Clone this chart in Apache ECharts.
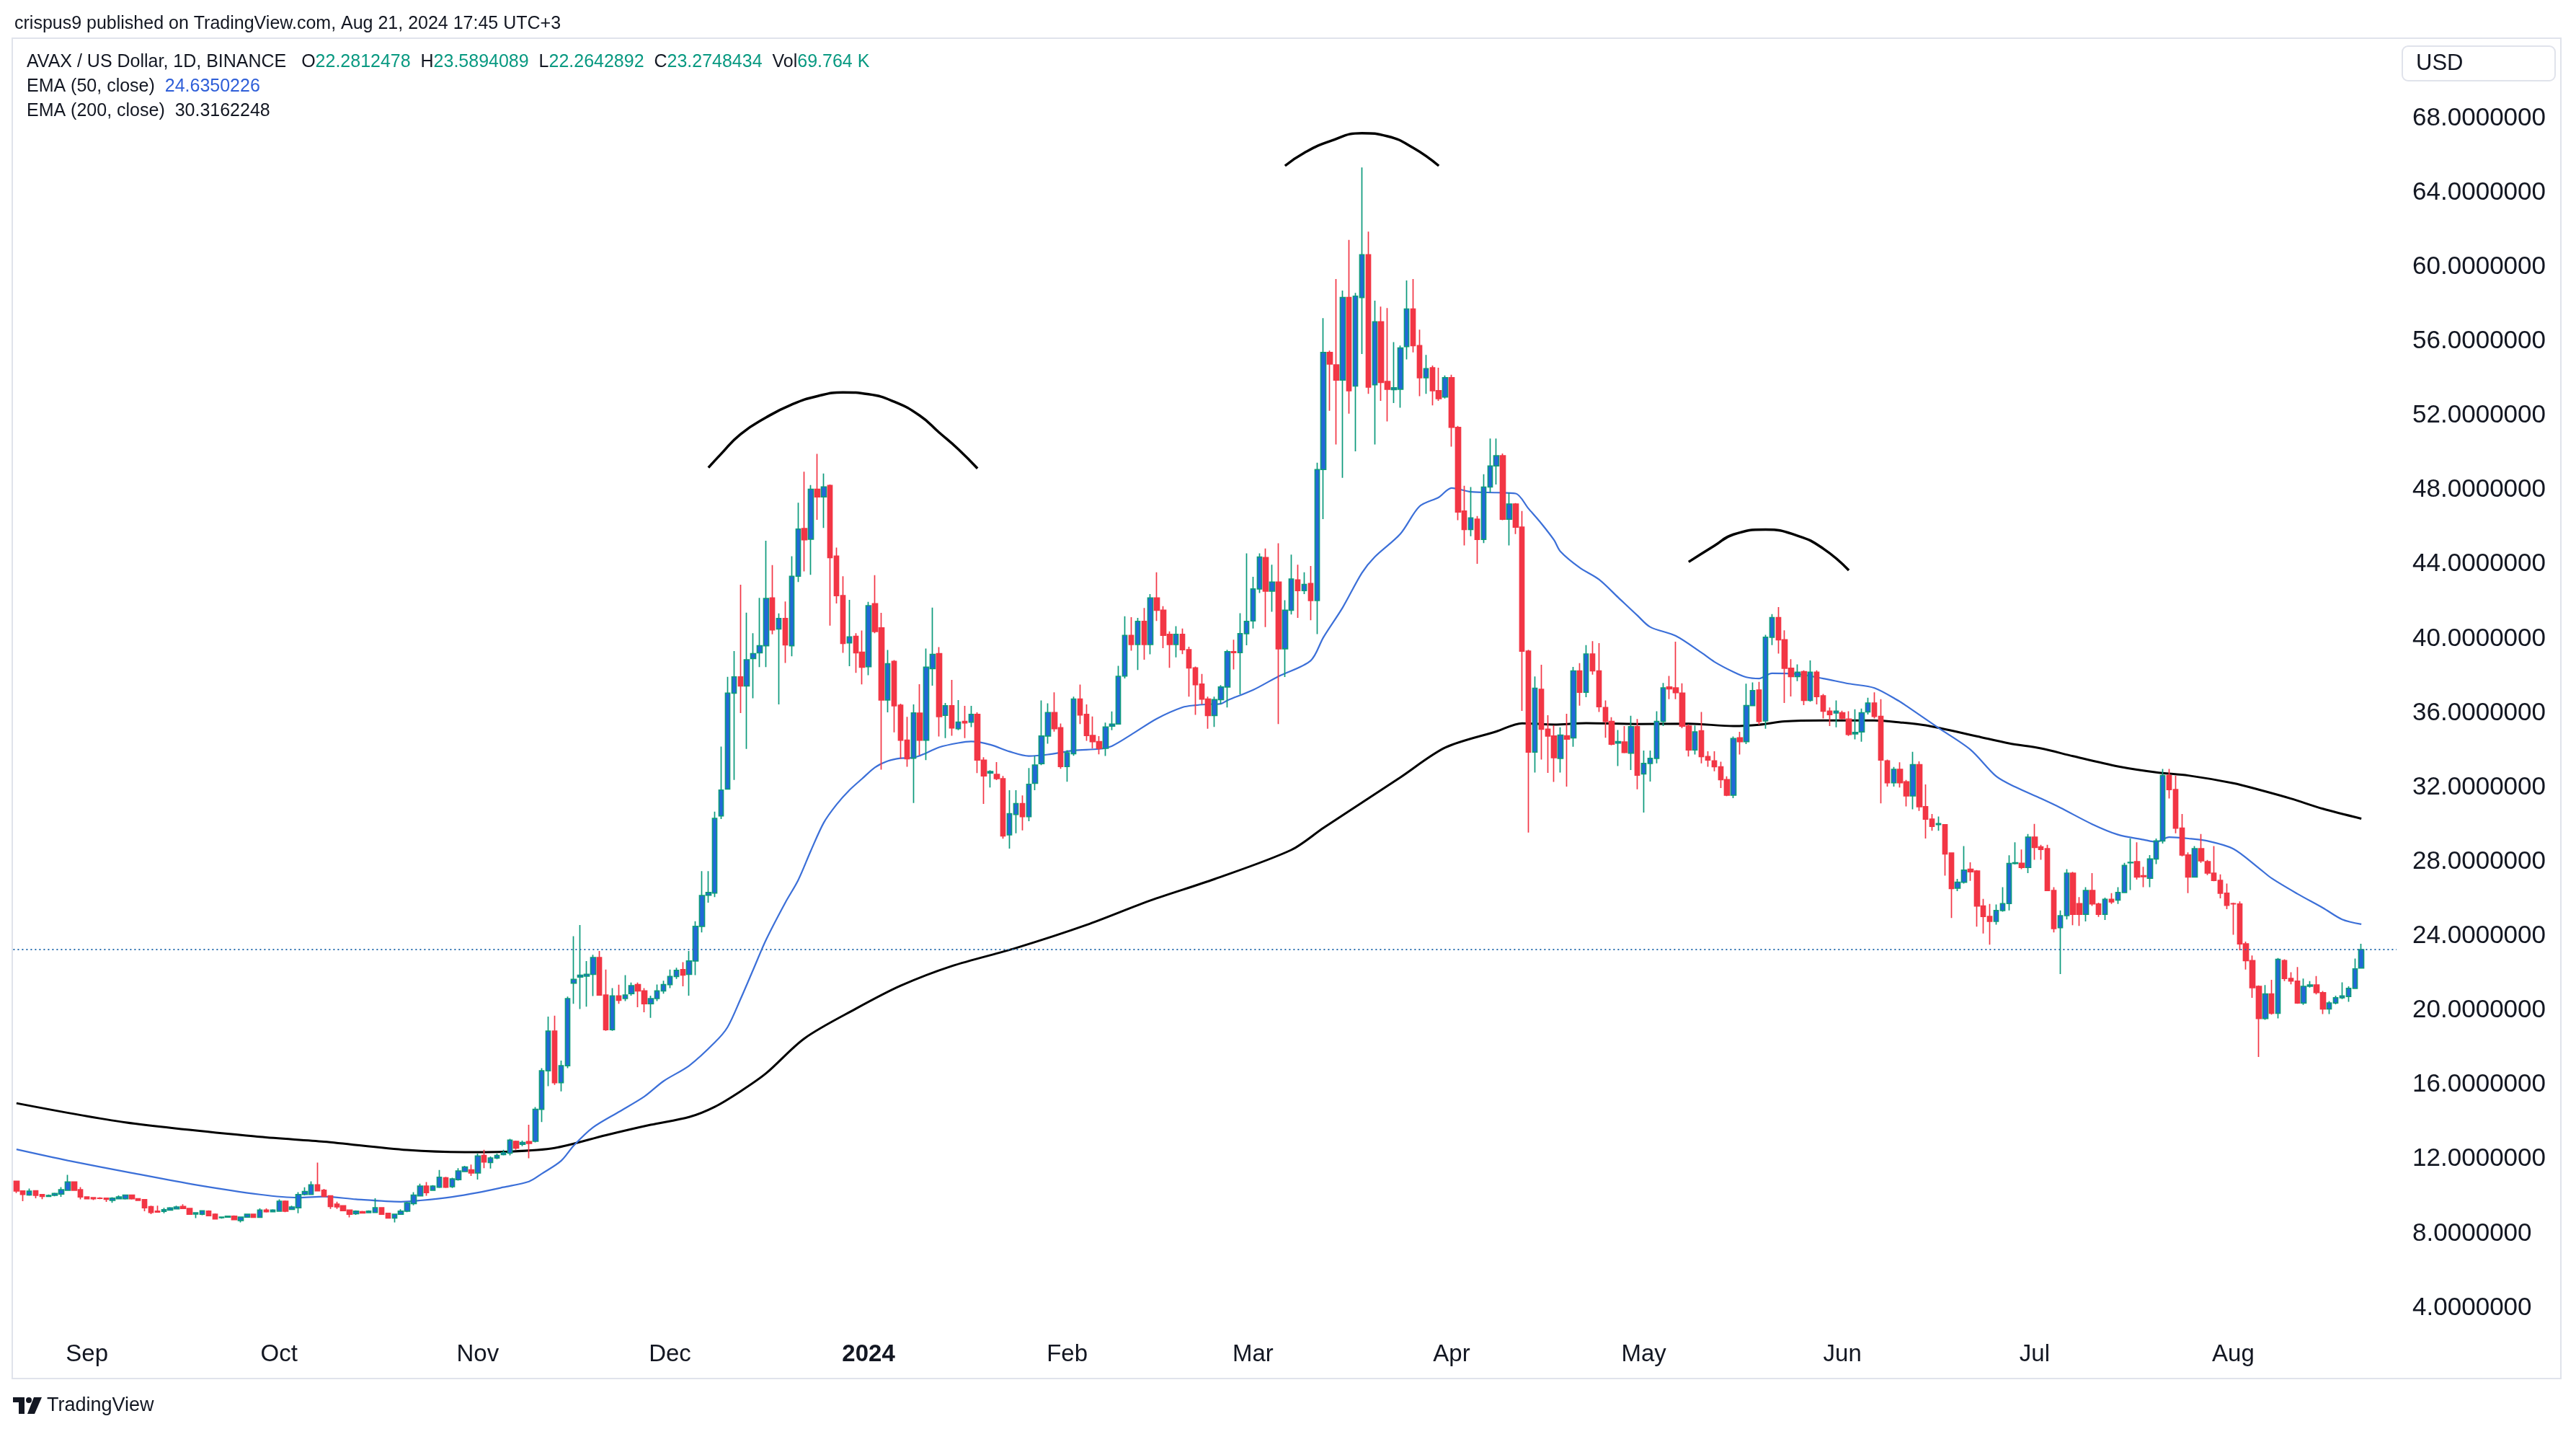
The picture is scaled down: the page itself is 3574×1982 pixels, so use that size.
<!DOCTYPE html>
<html>
<head>
<meta charset="utf-8">
<title>AVAX / US Dollar, 1D, BINANCE</title>
<script src="https://cdn.jsdelivr.net/npm/echarts/dist/echarts.min.js"></script>
<style>
  html, body { margin: 0; padding: 0; background: #ffffff; }
  #chart { width: 3574px; height: 1982px; }
</style>
</head>
<body>
<div id="chart"></div>
<script>
// daily candles, one row per day: [open, high, low, close]
var aug2023 = [
  [10.81,10.83,10.18,10.29],[10.29,10.30,9.74,10.10],[10.07,10.42,10.03,10.28],[10.30,10.33,9.90,10.05],
  [10.10,10.12,9.85,10.00],[10.00,10.10,9.98,10.05],[10.05,10.20,10.00,10.15],[10.12,10.50,9.97,10.36],
  [10.33,11.16,10.30,10.77],[10.77,10.80,10.30,10.33],[10.36,10.50,9.84,9.97]
];
var sep2023 = [
  [9.97,10.00,9.85,9.87],[9.93,9.95,9.80,9.87],[9.90,9.95,9.85,9.89],[9.90,9.92,9.70,9.84],
  [9.78,9.95,9.65,9.90],[9.87,10.05,9.85,9.97],[9.87,10.10,9.83,10.07],[10.07,10.10,9.83,9.87],
  [9.87,9.88,9.75,9.78],[9.82,9.84,9.20,9.39],[9.45,9.50,9.04,9.13],[9.20,9.50,9.13,9.15],
  [9.19,9.38,9.09,9.28],[9.26,9.42,9.25,9.38],[9.33,9.50,9.30,9.43],[9.46,9.58,9.33,9.35],
  [9.35,9.38,9.00,9.04],[9.05,9.15,8.83,9.12],[9.04,9.26,8.98,9.22],[9.20,9.25,8.93,8.96],
  [9.04,9.08,8.75,8.78],[8.85,8.90,8.80,8.88],[8.88,8.96,8.86,8.93],[8.93,8.97,8.72,8.75],
  [8.70,8.90,8.60,8.88],[8.88,9.07,8.85,9.04],[9.04,9.07,8.85,8.87],[8.87,9.35,8.85,9.26],
  [9.26,9.35,9.13,9.17],[9.17,9.30,9.15,9.26]
];
var oct2023 = [
  [9.20,9.84,9.18,9.74],[9.74,9.78,9.15,9.20],[9.30,9.50,9.28,9.43],[9.39,10.23,9.09,10.10],
  [10.10,10.49,10.05,10.26],[10.10,10.81,10.08,10.62],[10.62,11.82,10.28,10.30],[10.33,10.40,9.95,10.00],
  [10.03,10.05,9.32,9.45],[9.58,9.71,9.32,9.43],[9.49,9.52,9.20,9.23],[9.26,9.28,8.87,9.04],
  [9.07,9.25,9.00,9.20],[9.17,9.22,9.07,9.10],[9.12,9.25,9.10,9.20],[9.13,9.90,9.10,9.39],
  [9.39,9.42,9.00,9.04],[9.09,9.12,8.80,8.83],[8.83,9.07,8.60,9.04],[9.04,9.30,9.00,9.20],
  [9.20,9.70,9.15,9.65],[9.61,10.23,9.52,10.07],[10.03,10.68,9.99,10.55],[10.55,10.77,10.03,10.20],
  [10.33,10.60,10.30,10.55],[10.49,11.42,10.45,11.03],[11.00,11.05,10.45,10.49],[10.52,11.00,10.45,10.94],
  [10.90,11.52,10.85,11.37],[11.33,11.64,11.30,11.58],[11.42,11.71,11.10,11.26]
];
var nov2023 = [
  [11.26,12.30,10.90,12.17],[12.20,12.50,11.52,11.85],[11.82,12.15,11.50,12.06],[12.06,12.30,12.00,12.20],
  [12.25,12.50,12.20,12.35],[12.32,13.10,12.20,13.02],[12.96,13.00,12.50,12.60],[12.80,13.00,12.70,12.90],
  [12.95,13.85,12.05,12.85],[12.96,14.80,12.90,14.68],[14.68,16.90,14.00,16.76],[16.76,19.67,15.93,18.89],
  [18.89,19.72,16.00,16.12],[16.12,17.30,15.65,17.03],[17.03,20.75,16.90,20.64],[21.47,24.00,20.36,21.67],
  [21.80,24.60,20.08,21.90],[21.85,22.66,20.20,21.95],[21.94,23.00,20.78,22.85],[22.85,23.20,20.80,20.83],
  [20.83,22.20,18.90,18.97],[18.97,21.20,18.90,20.78],[20.78,21.39,20.36,20.55],[20.64,21.90,20.50,20.83],
  [20.91,21.50,20.80,21.33],[21.39,21.50,20.17,21.05],[21.05,21.20,19.90,20.36],[20.36,20.80,19.60,20.64],
  [20.64,21.40,20.50,21.05],[21.05,21.60,20.90,21.39]
];
var dec2023 = [
  [21.39,22.20,21.20,21.83],[21.83,22.30,21.70,22.16],[22.20,22.60,21.30,21.90],[21.94,23.20,20.80,22.66],
  [22.66,24.80,21.90,24.52],[24.52,27.50,24.20,26.18],[26.20,27.50,25.80,26.35],[26.32,30.70,26.10,30.33],
  [30.47,34.20,30.30,31.86],[31.91,37.95,31.90,37.07],[37.07,39.34,32.40,37.95],[37.95,42.90,36.00,37.46],
  [37.46,41.40,34.07,38.87],[38.93,40.30,36.80,39.20],[39.24,42.20,38.47,39.62],[39.62,45.27,38.47,42.16],
  [42.19,43.96,40.24,40.47],[40.52,41.36,36.47,41.09],[41.09,42.00,38.70,39.67],[39.62,44.44,39.05,43.36],
  [43.36,47.32,43.05,45.90],[45.93,48.98,43.62,45.32],[45.35,48.27,43.44,48.04],[48.04,49.94,46.40,47.63],
  [47.63,48.89,45.96,48.17],[48.24,48.30,40.70,44.36],[44.44,44.90,41.90,42.32],[42.32,43.36,39.24,39.75],
  [39.78,42.09,38.52,40.10],[40.13,40.30,38.16,39.24],[39.27,40.44,37.54,38.47]
];
var jan2024 = [
  [38.50,41.98,38.04,41.78],[41.88,43.42,40.30,40.39],[40.58,41.39,32.96,36.70],[36.70,39.39,36.04,38.65],
  [38.78,38.85,34.96,36.39],[36.42,36.50,33.54,34.54],[34.54,35.80,33.11,33.54],[33.57,36.47,31.16,36.01],
  [36.00,37.55,33.73,34.54],[34.54,39.47,33.47,38.47],[38.39,41.67,37.47,39.16],[39.20,39.55,34.74,35.81],
  [35.88,36.54,34.65,36.39],[36.39,37.78,34.78,35.20],[35.16,36.70,35.08,35.51],[35.55,36.39,34.65,35.47],
  [35.51,36.39,35.24,35.93],[35.93,36.04,32.77,33.47],[33.47,33.62,31.11,32.62],[32.77,32.93,32.00,32.85],
  [32.70,33.36,32.39,32.47],[32.47,32.62,29.24,29.39],[29.45,31.85,28.71,30.59],[30.54,31.85,29.53,31.13],
  [31.13,31.57,29.69,30.43],[30.43,33.04,30.18,32.17],[32.22,33.69,31.85,33.20],[33.28,36.68,33.20,34.76],
  [34.76,36.52,34.35,36.03],[36.03,37.12,35.00,35.16],[35.21,35.44,33.00,33.12]
];
var feb2024 = [
  [33.12,34.00,32.31,33.86],[33.81,36.88,33.70,36.75],[36.75,37.53,35.41,35.90],[35.93,36.47,34.51,34.79],
  [34.79,35.82,34.10,34.46],[34.46,34.76,33.78,34.10],[34.10,35.49,33.69,35.25],[35.30,36.09,35.08,35.40],
  [35.41,38.54,35.38,37.97],[37.99,41.21,37.86,40.18],[40.18,41.16,39.36,39.69],[39.69,41.12,38.32,40.93],
  [40.93,41.65,38.87,39.69],[39.69,42.40,39.16,42.19],[42.19,43.57,40.96,41.53],[41.53,41.75,39.49,40.18],
  [40.23,40.39,38.43,39.69],[39.69,40.67,39.00,40.23],[40.23,40.55,39.17,39.41],[39.41,39.57,36.88,38.43],
  [38.43,38.50,35.90,37.53],[37.56,38.10,36.47,36.75],[36.75,36.88,35.16,35.87],[35.87,36.88,35.25,36.72],
  [36.72,37.50,36.47,37.40],[37.40,39.40,36.30,39.30],[39.30,39.95,38.35,39.25],[39.25,41.37,37.01,40.27],
  [40.27,44.59,39.65,40.93]
];
var mar2024 = [
  [40.96,43.33,40.55,42.68],[42.68,44.59,42.46,44.39],[44.36,44.85,40.63,42.56],[42.56,43.98,41.45,43.05],
  [43.05,45.13,35.41,39.46],[39.46,42.07,37.94,41.53],[41.53,44.52,41.30,43.21],[43.16,43.98,41.12,42.59],
  [42.59,43.57,42.40,42.92],[42.97,43.91,40.99,42.05],[42.05,49.47,40.25,49.10],[49.10,57.25,46.43,55.40],
  [55.40,55.50,52.26,54.78],[54.73,59.35,50.45,53.91],[53.91,58.73,48.65,58.36],[58.36,61.45,52.11,53.34],
  [53.59,58.60,50.08,58.43],[58.36,65.35,55.32,60.66],[60.66,61.90,53.17,53.54],[53.66,58.19,50.45,57.05],
  [57.05,57.87,52.80,53.79],[53.84,57.79,51.69,53.42],[53.40,55.96,52.68,53.50],[53.42,55.77,52.43,55.64],
  [55.72,59.27,55.03,57.74],[57.74,59.35,55.40,55.77],[55.77,56.63,53.05,54.04],[54.04,55.27,53.17,54.53],
  [54.58,54.70,52.55,53.34],[53.34,54.58,52.80,52.92],[53.00,54.16,52.92,54.04]
];
var apr2024 = [
  [54.04,54.20,50.33,51.37],[51.37,51.45,46.38,46.82],[46.87,48.23,45.02,45.88],[45.88,48.16,45.51,46.50],
  [46.43,46.60,44.03,45.34],[45.34,48.85,45.14,48.16],[48.16,50.77,47.86,49.29],[49.30,50.77,48.30,49.84],
  [49.84,49.96,46.38,46.43],[46.43,47.86,45.02,47.24],[47.24,47.30,45.63,46.00],[46.00,46.87,36.12,39.33],
  [39.33,39.40,29.57,33.90],[33.90,37.97,32.80,37.33],[37.28,38.60,33.50,35.13],[35.13,35.88,32.78,34.76],
  [34.76,35.34,32.30,33.60],[33.56,35.23,32.80,34.81],[34.77,35.96,32.04,34.60],[34.67,38.48,34.19,38.27],
  [38.27,38.69,36.40,37.12],[37.12,39.66,36.85,39.18],[39.18,39.87,38.07,38.27],[38.27,39.76,36.06,36.34],
  [36.30,36.68,34.67,35.55],[35.55,35.78,34.26,34.33],[34.38,35.09,33.15,34.46],[34.44,35.30,33.84,33.88],
  [33.84,35.85,32.94,35.27],[35.27,35.68,31.90,32.66]
];
var may2024 = [
  [32.73,33.98,30.65,33.29],[33.29,33.98,32.32,33.56],[33.56,36.10,33.29,35.55],[35.55,37.62,35.30,37.35],
  [37.40,38.00,36.75,37.30],[37.35,39.84,36.75,37.10],[37.07,37.60,35.19,35.30],[35.30,35.40,33.66,34.02],
  [34.02,35.33,33.77,34.99],[35.05,36.06,33.29,33.66],[33.66,33.94,33.11,33.47],[33.43,33.94,32.87,33.11],
  [33.11,33.38,31.97,32.42],[32.42,32.60,31.53,31.58],[31.58,34.74,31.42,34.63],[34.67,34.99,33.77,34.46],
  [34.46,37.58,34.33,36.40],[36.40,37.65,36.38,37.21],[37.24,37.68,35.37,35.55],[35.58,40.21,35.16,40.08],
  [40.08,41.32,39.66,41.14],[41.14,41.70,39.20,39.94],[39.94,40.45,36.54,38.41],[38.41,38.90,36.89,37.96],
  [37.96,38.62,37.72,38.20],[38.23,38.30,36.43,36.68],[36.68,38.83,36.61,38.20],[38.20,38.30,36.47,36.89],
  [36.93,37.03,35.71,36.10],[36.10,36.30,35.30,35.92],[36.00,36.68,35.23,36.10]
];
var jun2024 = [
  [36.02,36.13,35.64,35.71],[35.68,36.10,34.77,34.85],[34.88,36.20,34.58,34.96],[34.99,36.24,34.46,36.02],
  [36.06,36.82,35.92,36.54],[36.54,37.12,35.71,35.82],[35.82,36.75,31.14,33.47],[33.43,33.50,32.04,32.25],
  [32.25,33.10,32.04,32.97],[32.97,33.35,32.00,32.25],[32.30,32.40,30.98,31.54],[31.54,33.92,30.82,33.22],
  [33.22,33.40,30.73,30.96],[30.96,32.16,29.25,30.29],[30.29,30.57,29.67,29.90],[30.00,30.43,29.67,30.05],
  [29.99,30.00,27.25,28.42],[28.47,28.50,24.97,26.56],[26.58,27.08,26.42,26.90],[26.90,28.84,26.83,27.55],
  [27.60,27.97,26.97,27.46],[27.50,27.55,24.51,25.62],[25.62,26.00,24.14,25.06],[25.06,25.73,23.54,24.79],
  [24.79,25.70,24.62,25.38],[25.38,26.63,25.31,25.75],[25.75,28.35,25.38,27.91],[27.91,29.05,27.85,27.95],
  [27.92,28.66,27.60,27.69],[27.69,29.49,27.39,29.32]
];
var jul2024 = [
  [29.32,30.04,28.11,28.77],[28.80,28.91,28.11,28.66],[28.70,28.91,26.42,26.45],[26.45,26.63,24.20,24.41],
  [24.45,25.38,21.96,25.10],[25.10,27.60,24.90,27.39],[27.39,27.46,24.59,25.17],[25.75,26.10,24.55,25.17],
  [25.17,26.63,24.79,26.45],[26.45,27.39,25.62,25.73],[25.73,25.80,25.03,25.17],[25.17,26.07,24.87,25.98],
  [25.98,26.31,25.73,25.84],[25.94,26.63,25.73,26.35],[26.35,27.94,26.31,27.80],[27.95,29.25,26.48,27.97],
  [28.01,29.05,27.04,27.18],[27.25,27.73,26.63,27.20],[27.11,28.36,26.63,28.15],[28.15,29.25,27.87,29.12],
  [29.12,32.99,28.98,32.64],[32.64,32.99,31.40,31.88],[31.88,32.64,29.53,29.81],[29.81,30.57,28.29,28.36],
  [28.36,28.50,26.31,27.18],[27.18,28.84,27.18,28.70],[28.70,29.49,27.94,28.05],[28.01,28.10,27.28,27.39],
  [27.39,28.84,26.95,27.00],[27.00,27.32,26.03,26.31],[26.31,26.83,25.45,25.66]
];
var aug2024 = [
  [25.75,25.80,24.07,25.73],[25.73,25.87,23.24,23.58],[23.58,23.70,22.20,22.68],[22.68,22.96,20.68,21.23],
  [21.30,21.35,17.50,19.57],[19.57,21.37,19.50,20.89],[20.89,21.65,19.78,19.85],[19.85,22.82,19.57,22.75],
  [22.68,22.75,21.58,21.72],[21.72,22.06,21.41,21.58],[21.58,22.34,20.36,20.40],[20.40,21.72,20.30,21.30],
  [21.30,21.58,21.23,21.37],[21.37,21.85,20.86,20.96],[20.96,21.05,19.81,20.08],[20.08,20.50,19.81,20.40],
  [20.40,20.80,20.33,20.68],[20.68,21.51,20.61,20.78],[20.75,21.30,20.47,21.19],[21.19,22.79,21.16,22.24],
  [22.2812478,23.5894089,22.2642892,23.2748434]
];

// EMA lines: [day index, value]
var ema50 = [
  [0,12.53],[8,11.93],[18,11.26],[28,10.62],[38,10.1],[44,9.93],[48,9.99],[53,9.84],[60,9.71],[63,9.78],
  [68,9.97],[72,10.2],[76,10.49],[80,10.8],[82,11.22],[85,11.91],[87,12.74],[90,13.71],[94,14.54],[98,15.37],
  [101,16.2],[105,17.03],[109,18.28],[111,19.11],[113,20.6],[115,22.2],[117,23.8],[120,25.8],[122,27.0],
  [124,28.6],[126,30.1],[128,31.08],[130,31.85],[132,32.47],[134,33.08],[136,33.42],[138,33.57],[140,33.6],
  [142,33.85],[144,34.16],[147,34.39],[149,34.47],[152,34.3],[155,33.93],[158,33.69],[161,33.77],[165,33.99],
  [169,34.07],[171,34.23],[174,34.84],[178,35.7],[182,36.31],[184,36.42],[186,36.47],[188,36.5],[189,36.68],
  [193,37.24],[197,37.98],[202,38.82],[204,40.08],[207,41.68],[210,43.54],[212,44.4],[216,45.64],[219,47.12],
  [222,47.61],[224,48.11],[227,47.9],[231,47.86],[234,47.81],[236,47.0],[238,46.2],[240,45.3],[241,44.69],
  [244,43.82],[247,43.19],[250,42.22],[253,41.25],[255,40.63],[259,40.15],[263,39.25],[265,38.76],[268,38.21],
  [270,37.93],[272,37.86],[274,38.14],[278,38.1],[282,37.86],[286,37.58],[290,37.35],[294,36.61],[295,36.38],
  [300,35.2],[305,34.03],[309,32.6],[312,32.02],[316,31.4],[319,30.91],[324,30.02],[328,29.46],[332,29.19],
  [334,29.07],[336,29.32],[339,29.25],[342,29.12],[346,28.7],[350,27.66],[352,27.11],[356,26.28],[360,25.52],
  [363,24.9],[366,24.64]
];
var ema200 = [
  [0,15.01],[17,13.98],[38,13.2],[48,12.94],[61,12.49],[70,12.38],[77,12.41],[84,12.6],[92,13.29],[99,13.85],
  [105,14.27],[109,14.82],[113,15.65],[117,16.62],[123,18.5],[131,20.09],[138,21.33],[146,22.39],[156,23.36],
  [167,24.6],[177,25.92],[187,27.07],[199,28.64],[204,29.82],[210,31.18],[216,32.54],[223,34.14],[231,35.01],
  [235,35.45],[240,35.38],[245,35.46],[253,35.41],[261,35.43],[268,35.3],[272,35.37],[276,35.55],[282,35.6],
  [290,35.6],[294,35.5],[298,35.34],[306,34.75],[311,34.37],[316,34.1],[321,33.68],[328,33.13],[334,32.81],
  [339,32.64],[346,32.23],[350,31.88],[355,31.4],[360,30.85],[366,30.32]
];

// hand-drawn arcs of the author
var arcLeft = [[108,49.2],[110,49.95],[113,51.0],[117,51.9],[121,52.6],[125,53.05],[129,53.25],[133,53.15],[137,52.75],[141,52.0],[144,51.1],[147,50.2],[150,49.16]];
var arcHead = [[198,65.44],[201,66.14],[205,66.76],[210,67.2],[214,67.03],[218,66.41],[222,65.44]];
var arcRight = [[261,44.13],[265,45.0],[268,45.61],[273,45.87],[278,45.54],[282,44.85],[286,43.68]];

var lastClose = 23.2748434;
var monthNames = ['Jan','Feb','Mar','Apr','May','Jun','Jul','Aug','Sep','Oct','Nov','Dec'];

var candles = [].concat(aug2023, sep2023, oct2023, nov2023, dec2023, jan2024, feb2024,
  mar2024, apr2024, may2024, jun2024, jul2024, aug2024);

// one slot per day, with a few empty days of right margin
var slots = candles.length + 5;
var startDay = Date.UTC(2023, 7, 21);
var dates = [];
for (var k = 0; k < slots; k++) {
  dates.push(new Date(startDay + k * 86400000).toISOString().slice(0, 10));
}

var FONT = '"Liberation Sans", Arial, Helvetica, sans-serif';
var INK = '#131722';
var UP = '#2268d9', UP_EDGE = '#0c9a7c', DOWN = '#f23645';

var chart = echarts.init(document.getElementById('chart'));
var option = {
  animation: false,
  backgroundColor: '#ffffff',
  grid: { left: 18.4, right: 248.9, top: 164, bottom: 168, containLabel: false, outerBoundsMode: 'none' },
  xAxis: {
    type: 'category',
    data: dates,
    boundaryGap: true,
    axisLine: { show: false },
    axisTick: { show: false },
    splitLine: { show: false },
    axisLabel: {
      interval: function (index, value) { return value.slice(8) === '01'; },
      formatter: function (value) {
        var m = parseInt(value.slice(5, 7), 10) - 1;
        return m === 0 ? '{y|' + value.slice(0, 4) + '}' : monthNames[m];
      },
      rich: { y: { fontWeight: 'bold', fontSize: 33, fontFamily: FONT, color: INK } },
      color: INK,
      fontSize: 33,
      fontFamily: FONT,
      margin: 48
    }
  },
  yAxis: {
    type: 'value',
    position: 'right',
    min: 4,
    max: 68,
    interval: 4,
    axisLine: { show: false },
    axisTick: { show: false },
    splitLine: { show: false },
    axisLabel: {
      formatter: function (v) { return v.toFixed(7); },
      color: INK,
      fontSize: 35,
      fontFamily: FONT,
      margin: 22
    }
  },
  series: [
    {
      name: 'EMA 200',
      type: 'line',
      data: ema200,
      smooth: 0.3,
      symbol: 'none',
      silent: true,
      lineStyle: { color: '#000000', width: 3 },
      z: 2
    },
    {
      name: 'EMA 50',
      type: 'line',
      data: ema50,
      smooth: 0.3,
      symbol: 'none',
      silent: true,
      lineStyle: { color: '#3b6fd8', width: 2.2 },
      z: 2
    },
    {
      name: 'AVAX',
      type: 'candlestick',
      data: candles.map(function (r) { return [r[0], r[3], r[2], r[1]]; }),
      barWidth: '78%',
      itemStyle: {
        color: UP,
        color0: DOWN,
        borderColor: UP_EDGE,
        borderColor0: DOWN,
        borderWidth: 1.7
      },
      markLine: {
        symbol: 'none',
        silent: true,
        label: { show: false },
        lineStyle: { color: '#2a6fb0', type: [2, 4], width: 2 },
        data: [{ yAxis: lastClose }]
      },
      z: 3
    },
    {
      type: 'line', data: arcLeft, smooth: true, symbol: 'none', silent: true,
      lineStyle: { color: '#000000', width: 3.5 }, z: 4
    },
    {
      type: 'line', data: arcHead, smooth: true, symbol: 'none', silent: true,
      lineStyle: { color: '#000000', width: 3.5 }, z: 4
    },
    {
      type: 'line', data: arcRight, smooth: true, symbol: 'none', silent: true,
      lineStyle: { color: '#000000', width: 3.5 }, z: 4
    }
  ],
  graphic: [
    // chart frame
    {
      type: 'rect', shape: { x: 17, y: 53, width: 3536, height: 1859 },
      style: { fill: 'none', stroke: '#e0e3eb', lineWidth: 2 }, silent: true, z: -1
    },
    // currency box
    {
      type: 'rect', shape: { x: 3333, y: 64, width: 212, height: 48, r: 8 },
      style: { fill: '#ffffff', stroke: '#e0e3eb', lineWidth: 2 }, silent: true
    },
    {
      type: 'text', x: 3352, y: 88,
      style: { text: 'USD', font: '31px ' + FONT, fill: INK, verticalAlign: 'middle', textVerticalAlign: 'middle' }
    },
    // publication line
    {
      type: 'text', x: 20, y: 33,
      style: {
        text: 'crispus9 published on TradingView.com, Aug 21, 2024 17:45 UTC+3',
        font: '25px ' + FONT, fill: INK, verticalAlign: 'middle', textVerticalAlign: 'middle'
      }
    },
    // legend rows
    {
      type: 'text', x: 37, y: 86,
      style: {
        text: '{k|AVAX / US Dollar, 1D, BINANCE}   {k|O}{v|22.2812478}  {k|H}{v|23.5894089}  {k|L}{v|22.2642892}  {k|C}{v|23.2748434}  {k|Vol}{v|69.764 K}',
        font: '25px ' + FONT,
        fill: INK,
        verticalAlign: 'middle', textVerticalAlign: 'middle',
        rich: {
          k: { font: '25px ' + FONT, fill: INK },
          v: { font: '25px ' + FONT, fill: '#089981' }
        }
      }
    },
    {
      type: 'text', x: 37, y: 120,
      style: {
        text: '{k|EMA (50, close)}  {b|24.6350226}',
        font: '25px ' + FONT, fill: INK,
        verticalAlign: 'middle', textVerticalAlign: 'middle',
        rich: {
          k: { font: '25px ' + FONT, fill: INK },
          b: { font: '25px ' + FONT, fill: '#2f5fd8' }
        }
      }
    },
    {
      type: 'text', x: 37, y: 154,
      style: {
        text: 'EMA (200, close)  30.3162248',
        font: '25px ' + FONT, fill: INK, verticalAlign: 'middle', textVerticalAlign: 'middle'
      }
    },
    // footer logo
    {
      type: 'polygon', shape: { points: [[18, 1938], [34, 1938], [34, 1961], [26, 1961], [26, 1945], [18, 1945]] },
      style: { fill: INK }, silent: true
    },
    {
      type: 'circle', shape: { cx: 40, cy: 1942, r: 4 }, style: { fill: INK }, silent: true
    },
    {
      type: 'polygon', shape: { points: [[47, 1938], [58, 1938], [48, 1961], [38, 1961]] },
      style: { fill: INK }, silent: true
    },
    {
      type: 'text', x: 65, y: 1950,
      style: { text: 'TradingView', font: '27px ' + FONT, fill: INK, verticalAlign: 'middle', textVerticalAlign: 'middle' }
    }
  ]
};
chart.setOption(option);
</script>
</body>
</html>
